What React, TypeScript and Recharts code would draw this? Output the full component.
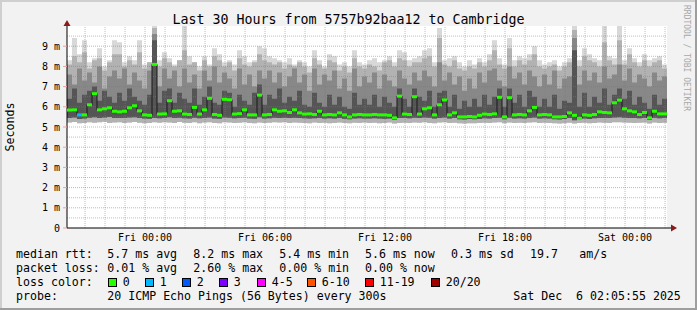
import React from 'react';
import {
  ComposedChart,
  Area,
  Line,
  XAxis,
  YAxis,
  CartesianGrid,
  ReferenceLine,
  ReferenceDot
} from 'recharts';

const FONT = '"DejaVu Sans Mono", monospace';

// one bin every 15 minutes, hours counted from Thu 20:05:55
const STEP_H = 0.25;

const median = [
  5.84, 5.85, 5.6, 5.6, 6.1, 6.65, 5.85, 5.9, 5.95, 5.78,
  5.75, 5.78, 5.95, 6.05, 5.8, 5.6, 5.58, 8.1, 5.64, 5.65,
  6.3, 5.78, 5.8, 5.64, 5.62, 5.97, 5.64, 5.85, 6.42, 5.62,
  5.58, 6.37, 6.35, 5.64, 5.66, 5.85, 5.6, 5.6, 6.58, 5.6,
  5.62, 5.85, 5.78, 5.8, 5.72, 5.85, 5.7, 5.64, 5.65, 5.62,
  5.78, 5.6, 5.62, 5.6, 5.7, 5.6, 5.5, 5.6, 5.62, 5.6,
  5.6, 5.62, 5.6, 5.6, 5.58, 5.45, 6.53, 5.64, 5.62, 6.5,
  5.64, 5.9, 5.95, 5.6, 6.1, 6.34, 5.6, 5.7, 5.5, 5.5,
  5.52, 5.5, 5.58, 5.64, 5.62, 5.65, 6.47, 5.5, 6.45, 5.6,
  5.62, 5.6, 5.8, 5.97, 5.6, 5.62, 5.6, 5.5, 5.5, 5.52,
  5.7, 5.58, 5.43, 5.6, 5.58, 5.62, 5.75, 5.72, 5.7, 6.2,
  6.33, 5.9, 5.8, 5.75, 5.62, 5.72, 5.45, 5.78, 5.65, 5.65
];

const minRtt = [
  5.22, 5.25, 5.18, 5.2, 5.24, 5.21, 5.23, 5.26, 5.2, 5.22,
  5.24, 5.2, 5.22, 5.25, 5.21, 5.19, 5.2, 5.23, 5.21, 5.24,
  5.22, 5.2, 5.25, 5.21, 5.2, 5.23, 5.19, 5.22, 5.24, 5.2,
  5.19, 5.23, 5.22, 5.2, 5.21, 5.24, 5.2, 5.19, 5.22, 5.2,
  5.21, 5.23, 5.22, 5.24, 5.2, 5.22, 5.21, 5.2, 5.19, 5.22,
  5.2, 5.21, 5.19, 5.2, 5.22, 5.2, 5.18, 5.21, 5.2, 5.22,
  5.2, 5.21, 5.19, 5.2, 5.22, 5.17, 5.2, 5.21, 5.2, 5.22,
  5.21, 5.23, 5.2, 5.19, 5.22, 5.24, 5.2, 5.21, 5.18, 5.17,
  5.19, 5.18, 5.2, 5.21, 5.2, 5.22, 5.23, 5.18, 5.22, 5.2,
  5.21, 5.2, 5.22, 5.23, 5.2, 5.21, 5.2, 5.18, 5.17, 5.19,
  5.21, 5.17, 5.2, 5.21, 5.19, 5.2, 5.22, 5.21, 5.2, 5.23,
  5.24, 5.22, 5.21, 5.2, 5.21, 5.22, 5.17, 5.22, 5.2, 5.21
];

const lowQ = [
  5.45, 5.47, 5.4, 5.42, 5.46, 5.48, 5.45, 5.47, 5.49, 5.44,
  5.45, 5.44, 5.47, 5.48, 5.45, 5.42, 5.41, 5.45, 5.43, 5.44,
  5.48, 5.45, 5.46, 5.43, 5.42, 5.46, 5.43, 5.45, 5.47, 5.42,
  5.41, 5.47, 5.46, 5.43, 5.44, 5.46, 5.42, 5.41, 5.48, 5.42,
  5.43, 5.46, 5.45, 5.46, 5.44, 5.46, 5.44, 5.43, 5.42, 5.43,
  5.45, 5.42, 5.43, 5.42, 5.44, 5.41, 5.38, 5.42, 5.43, 5.42,
  5.42, 5.43, 5.42, 5.41, 5.42, 5.35, 5.44, 5.44, 5.43, 5.46,
  5.44, 5.47, 5.46, 5.42, 5.45, 5.47, 5.42, 5.44, 5.38, 5.37,
  5.39, 5.38, 5.4, 5.43, 5.42, 5.44, 5.46, 5.38, 5.46, 5.42,
  5.43, 5.42, 5.45, 5.47, 5.42, 5.43, 5.42, 5.38, 5.37, 5.39,
  5.44, 5.33, 5.4, 5.42, 5.4, 5.43, 5.45, 5.44, 5.44, 5.47,
  5.48, 5.46, 5.45, 5.44, 5.43, 5.45, 5.35, 5.46, 5.43, 5.44
];

const darkTop = [
  6.4, 6.9, 6.2, 6.6, 6.8, 7.0, 6.3, 6.8, 6.5, 6.2,
  6.7, 6.3, 6.9, 6.5, 6.3, 6.1, 6.6, 9.3, 6.2, 6.8,
  6.9, 6.2, 6.7, 6.4, 6.2, 6.9, 6.1, 6.5, 7.0, 6.2,
  6.1, 6.8, 6.7, 6.0, 6.6, 6.3, 6.1, 6.7, 7.1, 6.1,
  6.6, 6.4, 6.9, 6.2, 6.5, 6.3, 6.8, 6.1, 6.0, 6.7,
  6.2, 6.0, 6.6, 6.1, 6.5, 6.0, 5.9, 6.7, 6.1, 6.4,
  6.1, 6.6, 6.0, 6.5, 6.2, 6.0, 6.9, 6.4, 6.0, 6.9,
  6.5, 6.3, 6.8, 6.0, 6.7, 6.8, 6.0, 6.6, 5.9, 6.3,
  6.0, 6.4, 6.0, 6.6, 6.1, 6.5, 6.9, 6.0, 6.9, 6.2,
  6.6, 6.0, 6.8, 6.5, 6.0, 6.4, 6.0, 6.6, 5.9, 6.3,
  6.2, 8.8, 6.0, 6.7, 6.0, 6.5, 6.2, 6.9, 6.1, 6.6,
  6.9, 6.4, 6.8, 6.1, 6.5, 6.2, 5.9, 6.6, 6.1, 6.4
];

const midTop = [
  7.6, 7.1, 7.9, 7.3, 7.7, 7.2, 8.0, 6.9, 7.5, 7.8,
  7.4, 7.9, 7.1, 7.7, 7.3, 6.9, 7.8, 9.6, 7.0, 7.9,
  7.4, 7.8, 7.0, 7.9, 7.2, 7.6, 6.9, 7.8, 7.3, 8.0,
  7.2, 7.7, 7.4, 6.9, 7.9, 7.1, 7.6, 7.0, 7.8, 7.4,
  7.8, 7.2, 7.7, 7.0, 7.5, 7.9, 7.2, 7.6, 6.8, 7.9,
  7.1, 7.6, 7.3, 7.8, 6.9, 7.4, 6.8, 7.9, 7.0, 7.5,
  7.2, 7.7, 6.9, 7.6, 7.3, 7.0, 7.8, 7.4, 7.1, 7.7,
  7.3, 7.8, 7.5, 7.0, 8.2, 7.3, 7.7, 7.1, 7.5, 6.8,
  7.4, 6.9, 7.7, 7.2, 7.8, 7.9, 7.3, 7.0, 8.0, 7.4,
  7.7, 7.1, 7.8, 7.5, 7.0, 7.6, 7.1, 7.8, 6.9, 7.4,
  7.5, 9.4, 7.1, 7.8, 7.3, 7.7, 7.2, 8.0, 7.4, 7.6,
  8.1, 7.3, 7.9, 7.2, 7.6, 7.4, 7.0, 7.7, 7.3, 7.5
];

const highQ = [
  8.1, 8.5, 8.2, 8.7, 7.9, 8.3, 8.4, 7.8, 8.2, 8.6,
  8.6, 8.0, 8.3, 8.1, 8.7, 7.9, 8.2, 9.9, 8.0, 8.4,
  8.2, 8.0, 8.3, 8.8, 8.1, 8.2, 7.8, 8.3, 8.0, 8.5,
  8.3, 8.0, 8.2, 7.8, 8.4, 8.1, 8.0, 8.2, 8.6, 8.3,
  8.2, 8.1, 8.2, 7.9, 8.1, 8.0, 8.2, 8.0, 7.7, 8.4,
  8.1, 7.9, 8.3, 8.2, 7.8, 8.0, 7.7, 8.4, 8.0, 7.9,
  8.1, 8.0, 7.8, 8.2, 8.3, 8.0, 8.4, 8.3, 8.0, 8.2,
  8.2, 8.4, 8.5, 8.0, 9.4, 8.1, 8.0, 8.3, 7.9, 7.8,
  8.0, 7.9, 8.2, 8.0, 8.3, 8.8, 8.1, 7.9, 8.9, 8.0,
  8.3, 8.1, 8.3, 8.6, 8.0, 7.9, 8.0, 8.1, 7.8, 8.0,
  8.2, 9.8, 8.0, 8.5, 8.3, 8.2, 8.0, 9.2, 8.3, 8.1,
  9.3, 8.1, 8.6, 8.2, 8.0, 8.3, 8.0, 8.2, 8.3, 7.9
];

const maxRtt = [
  8.3, 9.4, 8.6, 9.3, 8.2, 8.4, 8.9, 8.0, 8.3, 9.3,
  9.2, 8.2, 8.5, 8.3, 9.3, 8.1, 8.2, 10.0, 8.3, 8.7,
  8.4, 8.1, 8.3, 10.0, 8.5, 8.2, 8.0, 8.5, 8.1, 8.9,
  8.6, 8.2, 8.3, 8.1, 8.8, 8.5, 8.2, 8.3, 9.0, 8.9,
  8.5, 8.4, 8.3, 8.2, 8.4, 8.1, 8.3, 8.2, 8.0, 8.8,
  8.3, 8.0, 8.6, 8.5, 8.1, 8.2, 8.0, 8.8, 8.2, 8.1,
  8.3, 8.4, 8.2, 8.3, 8.5, 8.2, 8.8, 8.7, 8.3, 8.4,
  8.5, 8.8, 8.9, 8.2, 9.9, 8.3, 8.4, 8.5, 8.2, 8.0,
  8.3, 8.1, 8.4, 8.2, 8.6, 9.3, 8.4, 8.1, 9.4, 8.3,
  8.5, 8.4, 8.6, 9.0, 8.3, 8.1, 8.2, 8.3, 8.0, 8.2,
  8.4, 10.0, 8.3, 8.9, 8.6, 8.4, 8.3, 10.0, 8.5, 8.4,
  10.0, 8.3, 8.9, 8.4, 8.2, 8.6, 8.3, 8.4, 8.5, 8.1
];

// bins where some pings were lost (bin index -> lost count)
const lostPings: Record<number, number> = { 2: 1 };

const lossLabels = ['0', '1', '2', '3', '4-5', '6-10', '11-19', '20/20'];
const lossColors = ['#26ff00', '#00b8ff', '#0059ff', '#7e00ff', '#ff00ff', '#ff5500', '#ff0000', '#a10000'];

const xTicks = [3.9014, 9.9014, 15.9014, 21.9014, 27.9014];
const xTickLabels = ['Fri 00:00', 'Fri 06:00', 'Fri 12:00', 'Fri 18:00', 'Sat 00:00'];
const yTicks = [0, 1, 2, 3, 4, 5, 6, 7, 8, 9];
const yMajor = [1, 2, 3, 4, 5, 6, 7, 8, 9];
const yMinor = [0.5, 1.5, 2.5, 3.5, 4.5, 5.5, 6.5, 7.5, 8.5, 9.5];
const firstFullHour = 0.9014;
const hourLines = Array.from({ length: 30 }, (_, k) => firstFullHour + k);

const rows = median.map((m, i) => ({
  t: i * STEP_H,
  all: [minRtt[i], maxRtt[i]],
  light: [minRtt[i], highQ[i]],
  mid: [lowQ[i], midTop[i]],
  dark: [lowQ[i], darkTop[i]],
  med: m,
  loss: lostPings[i] || 0
}));
// close the last step at the right edge
const last = rows[rows.length - 1];
rows.push({ ...last, t: 30, loss: -1 });

const lossColor = (n: number) => {
  if (n <= 3) return lossColors[n];
  if (n <= 5) return lossColors[4];
  if (n <= 10) return lossColors[5];
  if (n <= 19) return lossColors[6];
  return lossColors[7];
};

const MedianMark = (props: any) => {
  const { cx, cy, payload, index } = props;
  if (cx == null || cy == null || payload.loss < 0) return <g key={`md${index}`} />;
  return (
    <rect key={`md${index}`} x={cx} y={cy - 1.5} width={5} height={3} fill={lossColor(payload.loss)} />
  );
};

const XTick = ({ x, y, payload }: any) => (
  <text x={x} y={y + 13} textAnchor="middle" fontFamily={FONT} fontSize={10} fill="#000">
    {xTickLabels[xTicks.indexOf(payload.value)]}
  </text>
);

const YTick = ({ x, y, payload }: any) => (
  <text x={x} y={y + 3.5} textAnchor="end" fontFamily={FONT} fontSize={10} fill="#000">
    {payload.value === 0 ? '0' : `${payload.value} m`}
  </text>
);

const Overlay = () => {
  const line1: [number, string][] = [
    [16, 'median rtt:'], [107.3, '5.7 ms avg'], [193.3, '8.2 ms max'], [279.3, '5.4 ms min'],
    [365, '5.6 ms now'], [451, '0.3 ms sd'], [530, '19.7'], [579.3, 'am/s']
  ];
  const line2: [number, string][] = [
    [16, 'packet loss:'], [107.3, '0.01 % avg'], [193.3, '2.60 % max'], [279.3, '0.00 % min'], [365, '0.00 % now']
  ];
  const boxX = [108, 145, 182, 219, 257, 307, 365, 431];
  const txt = { fontFamily: FONT, fontSize: 11.6, fill: '#000' } as const;
  return (
    <svg width={697} height={310} style={{ position: 'absolute', left: 0, top: 0, pointerEvents: 'none' }}>
      <rect x={0} y={0} width={697} height={2} fill="#cfcfcf" />
      <rect x={0} y={0} width={2} height={310} fill="#cfcfcf" />
      <rect x={695} y={0} width={2} height={310} fill="#9e9e9e" />
      <rect x={0} y={308} width={697} height={2} fill="#9e9e9e" />
      <text x={348.5} y={24} textAnchor="middle" fontFamily={FONT} fontSize={13.3} fill="#000">
        Last 30 Hours from 5757b92baa12 to Cambridge
      </text>
      <text x={14} y={127} textAnchor="middle" fontFamily={FONT} fontSize={11.6} fill="#000"
        transform="rotate(-90 14 127)">Seconds</text>
      <text x={684} y={5} fontFamily={FONT} fontSize={8} fill="#a8a8a8" transform="rotate(90 684 5)">
        RRDTOOL / TOBI OETIKER
      </text>
      {line1.map(([x, s]) => <text key={s} x={x} y={258} {...txt}>{s}</text>)}
      {line2.map(([x, s]) => <text key={s} x={x} y={272} {...txt}>{s}</text>)}
      <text x={16} y={286} {...txt}>loss color:</text>
      {lossLabels.map((l, i) => (
        <g key={l}>
          <rect x={boxX[i] + 0.5} y={278.5} width={8} height={8} fill={lossColors[i]} stroke="#000" strokeWidth={1} />
          <text x={boxX[i] + 14.7} y={286} {...txt}>{l}</text>
        </g>
      ))}
      <text x={16} y={300} {...txt}>probe:</text>
      <text x={107.3} y={300} {...txt}>20 ICMP Echo Pings (56 Bytes) every 300s</text>
      <text x={513.3} y={300} {...txt} xmlSpace="preserve">Sat Dec  6 02:05:55 2025</text>
    </svg>
  );
};

const App: React.FC = () => {
  return (
    <div style={{ position: 'fixed', left: 0, top: 0, width: 697, height: 310, background: '#f2f2f2' }}>
      <ComposedChart width={697} height={310} data={rows} margin={{ top: 26, right: 30, bottom: 52, left: 7 }}>
        <CartesianGrid horizontal={false} vertical={false} fill="#ffffff" fillOpacity={1} />
        <XAxis
          type="number"
          dataKey="t"
          domain={[0, 30]}
          ticks={xTicks}
          tick={<XTick />}
          tickLine={false}
          tickSize={0}
          tickMargin={0}
          height={30}
          axisLine={{ stroke: '#000' }}
          interval={0}
        />
        <YAxis
          type="number"
          domain={[0, 10]}
          ticks={yTicks}
          tick={<YTick />}
          tickSize={4}
          tickMargin={3}
          tickLine={{ stroke: '#f0a0a0' }}
          width={60}
          axisLine={{ stroke: '#000' }}
          interval={0}
          allowDataOverflow
        />
        <Area type="stepAfter" dataKey="all" stroke="none" fill="#d8d8d8" fillOpacity={1} isAnimationActive={false} activeDot={false} />
        <Area type="stepAfter" dataKey="light" stroke="none" fill="#b2b2b2" fillOpacity={1} isAnimationActive={false} activeDot={false} />
        <Area type="stepAfter" dataKey="mid" stroke="none" fill="#888888" fillOpacity={1} isAnimationActive={false} activeDot={false} />
        <Area type="stepAfter" dataKey="dark" stroke="none" fill="#555555" fillOpacity={1} isAnimationActive={false} activeDot={false} />
        {yMinor.map(v => (
          <ReferenceLine key={`yn${v}`} y={v} stroke="rgba(128,128,128,0.5)" strokeDasharray="1 1" zIndex={150} />
        ))}
        {hourLines.filter((_, k) => k % 3 !== 0).map(v => (
          <ReferenceLine key={`xn${v}`} x={v} stroke="rgba(128,128,128,0.5)" strokeDasharray="1 1" zIndex={150} />
        ))}
        {yMajor.map(v => (
          <ReferenceLine key={`ym${v}`} y={v} stroke="rgba(240,70,70,0.5)" strokeDasharray="1 1" zIndex={150} />
        ))}
        {hourLines.filter((_, k) => k % 3 === 0).map(v => (
          <ReferenceLine key={`xm${v}`} x={v} stroke="rgba(240,70,70,0.5)" strokeDasharray="1 1" zIndex={150} />
        ))}
        <Line
          type="stepAfter"
          dataKey="med"
          stroke="#1a1a1a"
          strokeWidth={1}
          dot={<MedianMark />}
          activeDot={false}
          isAnimationActive={false}
          zIndex={400}
        />
        <ReferenceDot
          x={30}
          y={0}
          ifOverflow="visible"
          zIndex={500}
          shape={(p: any) => (
            <g>
              <line x1={p.cx} x2={p.cx + 5} y1={p.cy} y2={p.cy} stroke="#000" />
              <path d={`M${p.cx + 4},${p.cy - 3.5} L${p.cx + 10},${p.cy} L${p.cx + 4},${p.cy + 3.5} Z`} fill="#8b1a1a" />
            </g>
          )}
        />
        <ReferenceDot
          x={0}
          y={10}
          ifOverflow="visible"
          zIndex={500}
          shape={(p: any) => (
            <path d={`M${p.cx - 3.5},${p.cy} L${p.cx},${p.cy - 6} L${p.cx + 3.5},${p.cy} Z`} fill="#8b1a1a" />
          )}
        />
      </ComposedChart>
      <Overlay />
    </div>
  );
};

export default App;
